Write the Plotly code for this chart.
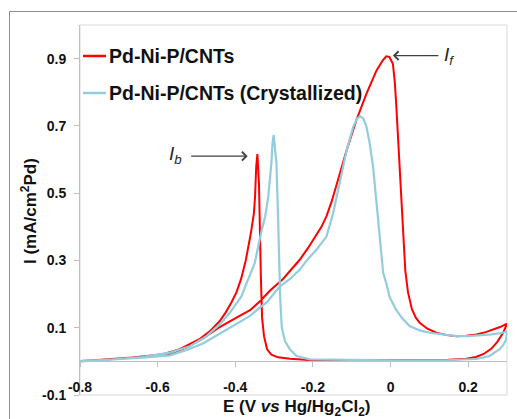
import plotly.graph_objects as go

# ---------------- data ----------------
series_names = ["Pd-Ni-P/CNTs", "Pd-Ni-P/CNTs (Crystallized)"]

red_E = [-0.800, -0.750, -0.700, -0.671, -0.620, -0.568, -0.525, -0.483, -0.440, -0.405,
         -0.362, -0.337, -0.311, -0.277, -0.259, -0.234, -0.212, -0.191, -0.178, -0.165,
         -0.152, -0.139, -0.113, -0.088, -0.062, -0.036, -0.020, -0.011, -0.003, 0.006,
         0.011, 0.015, 0.024, 0.032, 0.038, 0.045, 0.055, 0.065, 0.075, 0.095,
         0.118, 0.145, 0.170, 0.195, 0.221, 0.245, 0.264, 0.282, 0.300,
         0.290, 0.275, 0.260, 0.240, 0.220, 0.195, 0.150, 0.100, 0.000, -0.100,
         -0.200, -0.259, -0.290, -0.307, -0.318, -0.326, -0.331, -0.334, -0.336, -0.339,
         -0.343, -0.346, -0.349, -0.352, -0.360, -0.373, -0.385, -0.397, -0.410, -0.425,
         -0.440, -0.465, -0.491, -0.543, -0.586, -0.671, -0.750, -0.800]
red_I = [0.000, 0.004, 0.008, 0.011, 0.015, 0.022, 0.042, 0.068, 0.102, 0.125,
         0.152, 0.178, 0.210, 0.245, 0.270, 0.302, 0.338, 0.374, 0.400, 0.432,
         0.474, 0.525, 0.628, 0.717, 0.796, 0.865, 0.895, 0.907, 0.905, 0.885,
         0.830, 0.756, 0.559, 0.361, 0.270, 0.205, 0.155, 0.130, 0.115, 0.097,
         0.085, 0.078, 0.075, 0.076, 0.080, 0.087, 0.095, 0.102, 0.112,
         0.085, 0.058, 0.038, 0.022, 0.013, 0.008, 0.005, 0.004, 0.003, 0.003,
         0.003, 0.008, 0.012, 0.020, 0.036, 0.075, 0.130, 0.250, 0.400, 0.530,
         0.616, 0.580, 0.490, 0.440, 0.380, 0.300, 0.245, 0.205, 0.175, 0.145,
         0.120, 0.090, 0.067, 0.036, 0.021, 0.011, 0.004, 0.001]

blue_E = [-0.800, -0.750, -0.700, -0.640, -0.568, -0.525, -0.483, -0.440, -0.397, -0.362,
          -0.337, -0.319, -0.285, -0.259, -0.234, -0.216, -0.191, -0.165, -0.148, -0.131,
          -0.113, -0.096, -0.087, -0.079, -0.070, -0.062, -0.054, -0.045, -0.032, -0.019,
          -0.011, -0.002, 0.015, 0.030, 0.049, 0.075, 0.101, 0.135, 0.170, 0.200,
          0.230, 0.260, 0.290, 0.300,
          0.298, 0.290, 0.281, 0.268, 0.255, 0.221, 0.150, 0.000, -0.150, -0.208,
          -0.242, -0.259, -0.272, -0.280, -0.284, -0.286, -0.290, -0.294, -0.298, -0.301,
          -0.304, -0.307, -0.315, -0.323, -0.332, -0.350, -0.370, -0.384, -0.414, -0.440,
          -0.474, -0.517, -0.568, -0.640, -0.720, -0.800]
blue_I = [0.000, 0.003, 0.006, 0.011, 0.018, 0.034, 0.053, 0.082, 0.113, 0.135,
          0.160, 0.175, 0.223, 0.245, 0.272, 0.300, 0.332, 0.371, 0.440, 0.529,
          0.628, 0.697, 0.720, 0.729, 0.722, 0.697, 0.650, 0.579, 0.411, 0.263,
          0.232, 0.190, 0.152, 0.128, 0.105, 0.092, 0.085, 0.079, 0.075, 0.075,
          0.077, 0.080, 0.085, 0.090,
          0.065, 0.048, 0.036, 0.025, 0.016, 0.007, 0.004, 0.003, 0.004, 0.006,
          0.016, 0.035, 0.060, 0.100, 0.180, 0.300, 0.440, 0.589, 0.650, 0.673,
          0.650, 0.589, 0.490, 0.430, 0.390, 0.292, 0.235, 0.194, 0.144, 0.110,
          0.075, 0.045, 0.026, 0.013, 0.005, 0.001]

x_ticks = [-0.8, -0.6, -0.4, -0.2, 0, 0.2]
x_ticklabels = ["-0.8", "-0.6", "-0.4", "-0.2", "0", "0.2"]
y_ticks = [-0.1, 0.1, 0.3, 0.5, 0.7, 0.9]
y_ticklabels = ["-0.1", "0.1", "0.3", "0.5", "0.7", "0.9"]

# peak markers for the annotations
If_peak = (0.006, 0.909)
Ib_peak = (-0.368, 0.610)

# ---------------- figure ----------------
RED = "#FF0000"
BLUE = "#93CDDD"
FONT = "Liberation Sans, Arial, sans-serif"
W, H = 517, 419
ML, MR, MT, MB = 80, 10, 25, 24
PW, PH = W - ML - MR, H - MT - MB


def px2paper_x(px):
    return (px - ML) / PW


def px2paper_y(py):
    return (H - MB - py) / PH


fig = go.Figure()
fig.add_trace(go.Scatter(x=red_E, y=red_I, mode="lines", name=series_names[0],
                         line=dict(color=RED, width=2), showlegend=False))
fig.add_trace(go.Scatter(x=blue_E, y=blue_I, mode="lines", name=series_names[1],
                         line=dict(color=BLUE, width=2.2), showlegend=False))

xr = [-0.8, 0.3]
yr = [-0.1, 1.0]

fig.update_layout(
    width=W, height=H,
    margin=dict(l=ML, r=MR, t=MT, b=MB, pad=0),
    paper_bgcolor="white", plot_bgcolor="white",
    font=dict(family=FONT, color="#111111"),
    xaxis=dict(range=xr, tickvals=x_ticks, ticktext=x_ticklabels,
               anchor="free", position=(0 - yr[0]) / (yr[1] - yr[0]),
               showline=True, linecolor="#bfbfbf", linewidth=1,
               ticks="outside", ticklen=5, tickcolor="#bfbfbf",
               showgrid=False, zeroline=False,
               tickfont=dict(size=14, weight="bold", color="#111111"),
               ticklabelstandoff=8),
    yaxis=dict(range=yr, tickvals=y_ticks, ticktext=y_ticklabels,
               showline=True, linecolor="#bfbfbf", linewidth=1,
               ticks="outside", ticklen=5, tickcolor="#bfbfbf",
               showgrid=False, zeroline=False,
               tickfont=dict(size=14, weight="bold", color="#111111"),
               ticklabelstandoff=5),
)

shapes = [
    # plot-area border
    dict(type="rect", xref="paper", yref="paper", x0=0, y0=0, x1=1, y1=1,
         line=dict(color="#d9d9d9", width=1), layer="below"),
    # outer chart frame
    dict(type="rect", xref="paper", yref="paper",
         x0=px2paper_x(9.5), y0=px2paper_y(430), x1=px2paper_x(530), y1=px2paper_y(11.5),
         line=dict(color="#8c8c8c", width=1), layer="below"),
]
# legend line samples
leg_y = [56, 93]
leg_cols = [RED, BLUE]
for yy, col in zip(leg_y, leg_cols):
    shapes.append(dict(type="line", xref="paper", yref="paper",
                       x0=px2paper_x(83), x1=px2paper_x(106),
                       y0=px2paper_y(yy), y1=px2paper_y(yy),
                       line=dict(color=col, width=2.5)))
fig.update_layout(shapes=shapes)

annotations = []
for yy, name in zip(leg_y, series_names):
    annotations.append(dict(xref="paper", yref="paper", x=px2paper_x(107), y=px2paper_y(yy),
                            xanchor="left", yanchor="middle", showarrow=False,
                            text="<b>%s</b>" % name,
                            font=dict(size=19.5, family=FONT, color="#111111")))

# axis titles
annotations.append(dict(xref="paper", yref="paper", x=px2paper_x(296), y=px2paper_y(408),
                        xanchor="center", yanchor="middle", showarrow=False,
                        text="<b>E (V <i>vs</i> Hg/Hg<sub>2</sub>Cl<sub>2</sub>)</b>",
                        font=dict(size=17, family=FONT, color="#111111")))
annotations.append(dict(xref="paper", yref="paper", x=px2paper_x(29), y=px2paper_y(211),
                        xanchor="center", yanchor="middle", showarrow=False, textangle=-90,
                        text="<b>I (mA/cm<sup>2</sup>Pd)</b>",
                        font=dict(size=17, family=FONT, color="#111111")))

# peak arrows + labels
annotations.append(dict(x=If_peak[0], y=If_peak[1], xref="x", yref="y", text="",
                        showarrow=True, ax=47, ay=0, arrowhead=4, arrowsize=1.3,
                        arrowwidth=1.3, arrowcolor="#404040"))
annotations.append(dict(x=Ib_peak[0], y=Ib_peak[1], xref="x", yref="y", text="",
                        showarrow=True, ax=-58, ay=0, arrowhead=4, arrowsize=1.3,
                        arrowwidth=1.3, arrowcolor="#404040"))
annotations.append(dict(xref="paper", yref="paper", x=px2paper_x(442), y=px2paper_y(56),
                        xanchor="left", yanchor="middle", showarrow=False,
                        text="<i>I</i><sub><i>f</i></sub>",
                        font=dict(size=19, family=FONT, color="#262626")))
annotations.append(dict(xref="paper", yref="paper", x=px2paper_x(167), y=px2paper_y(155),
                        xanchor="left", yanchor="middle", showarrow=False,
                        text="<i>I</i><sub><i>b</i></sub>",
                        font=dict(size=19, family=FONT, color="#262626")))
fig.update_layout(annotations=annotations)

fig.write_html("out.html")
